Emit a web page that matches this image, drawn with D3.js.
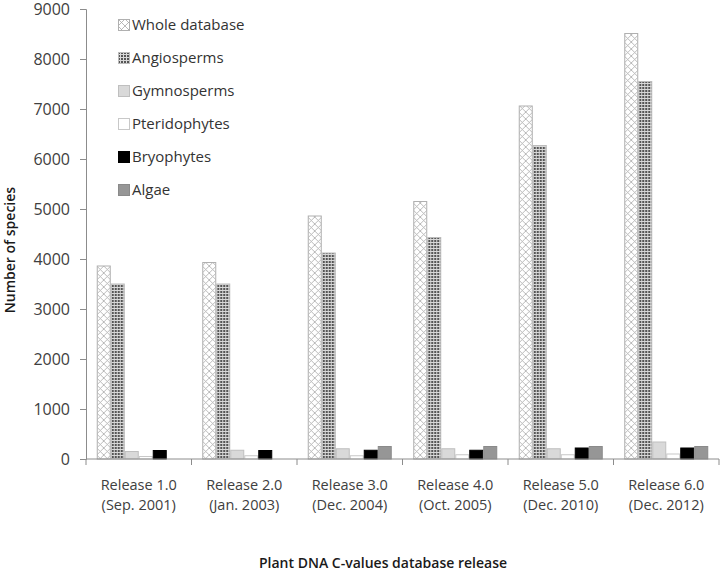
<!DOCTYPE html>
<html>
<head>
<meta charset="utf-8">
<script src="https://cdn.jsdelivr.net/npm/d3@7"></script>
<style>
body { margin: 0; background: #fff; }
text { font-family: "Open Sans", Lato, sans-serif; }
</style>
</head>
<body>
<div id="chart"></div>
<script>
var releases = ["Release 1.0", "Release 2.0", "Release 3.0", "Release 4.0", "Release 5.0", "Release 6.0"];
var dates = ["(Sep. 2001)", "(Jan. 2003)", "(Dec. 2004)", "(Oct. 2005)", "(Dec. 2010)", "(Dec. 2012)"];
var seriesNames = ["Whole database", "Angiosperms", "Gymnosperms", "Pteridophytes", "Bryophytes", "Algae"];
var wholeDb = [3860, 3930, 4860, 5150, 7060, 8510];
var angiosperms = [3500, 3500, 4120, 4430, 6270, 7550];
var gymnosperms = [150, 175, 205, 205, 205, 340];
var pteridophytes = [50, 65, 65, 85, 85, 100];
var bryophytes = [170, 170, 175, 175, 220, 220];
var algae = [0, 0, 250, 250, 250, 250];
var yTicks = [0, 1000, 2000, 3000, 4000, 5000, 6000, 7000, 8000, 9000];

var seriesVals = [wholeDb, angiosperms, gymnosperms, pteridophytes, bryophytes, algae];

var width = 720, height = 573;
var mLeft = 86, mRight = 719, mTop = 9, mBottom = 459;

var svg = d3.select("#chart").append("svg")
	.attr("width", width)
	.attr("height", height);

// patterns
var defs = svg.append("defs");
var hatch = defs.append("pattern")
	.attr("id", "pWhole")
	.attr("patternUnits", "userSpaceOnUse")
	.attr("width", 7).attr("height", 7);
hatch.append("rect").attr("width", 7).attr("height", 7).attr("fill", "#fff");
hatch.append("path").attr("d", "M0,0L7,7M7,0L0,7M-1,6L1,8M6,-1L8,1")
	.attr("stroke", "#a8a8a8").attr("stroke-width", 0.8);

var dots = defs.append("pattern")
	.attr("id", "pAngio")
	.attr("patternUnits", "userSpaceOnUse")
	.attr("width", 3).attr("height", 3);
dots.append("rect").attr("width", 3).attr("height", 3).attr("fill", "#d8d8d8");
dots.append("rect").attr("width", 2).attr("height", 2).attr("fill", "#555");

var fills = ["url(#pWhole)", "url(#pAngio)", "#d9d9d9", "#ffffff", "#000000", "#969696"];
var strokes = ["#b0b0b0", "#bcbcbc", "#bfbfbf", "#c8c8c8", "#000000", "#8a8a8a"];

var xCat = d3.scaleBand().domain(releases).range([mLeft, mRight]);
var x1 = d3.scaleBand().domain(seriesNames).range([0, 84]);
var y = d3.scaleLinear().domain([0, 9000]).range([mBottom, mTop]);

// groups of bars
var groups = svg.selectAll("g.grp")
	.data(releases)
	.enter().append("g")
	.attr("class", "grp")
	.attr("transform", function (d) { return "translate(" + (xCat(d) + (xCat.bandwidth() - 84) / 2) + ",0)"; });

groups.each(function (r, i) {
	var g = d3.select(this);
	seriesNames.forEach(function (s, k) {
		var v = seriesVals[k][i];
		if (!v) return;
		g.append("rect")
			.attr("x", x1(s) + 0.5)
			.attr("y", y(v))
			.attr("width", x1.bandwidth() - 1)
			.attr("height", y(0) - y(v))
			.attr("fill", fills[k])
			.attr("stroke", strokes[k])
			.attr("stroke-width", 1);
	});
});

// y axis
var yAxis = svg.append("g")
	.attr("transform", "translate(" + mLeft + ",0)")
	.call(d3.axisLeft(y).tickValues(yTicks).tickSize(6).tickPadding(10).tickFormat(d3.format("d")));
yAxis.select(".domain").attr("stroke", "#8c8c8c");
yAxis.selectAll(".tick line").attr("stroke", "#8c8c8c");
yAxis.selectAll(".tick text")
	.style("font-size", "16px")
	.style("font-family", "'Open Sans', sans-serif")
	.attr("fill", "#404040");

// x axis with ticks at category boundaries
svg.append("line")
	.attr("x1", mLeft).attr("x2", mRight)
	.attr("y1", mBottom).attr("y2", mBottom)
	.attr("stroke", "#8c8c8c");
var bounds = releases.map(function (d) { return xCat(d); }).concat([mRight]);
svg.selectAll("line.xt")
	.data(bounds)
	.enter().append("line")
	.attr("class", "xt")
	.attr("x1", function (d) { return d; }).attr("x2", function (d) { return d; })
	.attr("y1", mBottom).attr("y2", mBottom + 6)
	.attr("stroke", "#8c8c8c");

var xl = svg.selectAll("text.xl")
	.data(releases)
	.enter().append("text")
	.attr("class", "xl")
	.attr("text-anchor", "middle")
	.attr("x", function (d) { return xCat(d) + xCat.bandwidth() / 2; })
	.attr("y", 490)
	.style("font-size", "14.5px")
	.attr("fill", "#404040");
xl.append("tspan").text(function (d) { return d; });
xl.append("tspan")
	.attr("x", function (d) { return xCat(d) + xCat.bandwidth() / 2; })
	.attr("dy", 20)
	.text(function (d, i) { return dates[i]; });

// axis titles
svg.append("text")
	.attr("text-anchor", "middle")
	.attr("x", 383).attr("y", 568)
	.style("font-size", "14px")
	.style("font-weight", "600")
	.attr("fill", "#1a1a1a")
	.text("Plant DNA C-values database release");

svg.append("text")
	.attr("text-anchor", "middle")
	.attr("transform", "translate(15,250) rotate(-90)")
	.style("font-size", "14px")
	.style("font-weight", "600")
	.attr("fill", "#1a1a1a")
	.text("Number of species");

// legend
var legend = svg.selectAll("g.leg")
	.data(seriesNames)
	.enter().append("g")
	.attr("class", "leg")
	.attr("transform", function (d, i) { return "translate(118," + (19 + i * 33) + ")"; });
legend.append("rect")
	.attr("x", 0.5).attr("y", 0.5)
	.attr("width", 11).attr("height", 11)
	.attr("fill", function (d, i) { return fills[i]; })
	.attr("stroke", function (d, i) { return strokes[i]; });
legend.append("text")
	.attr("x", 14).attr("y", 11)
	.style("font-size", "15px")
	.attr("fill", "#333")
	.text(function (d) { return d; });
</script>
</body>
</html>
